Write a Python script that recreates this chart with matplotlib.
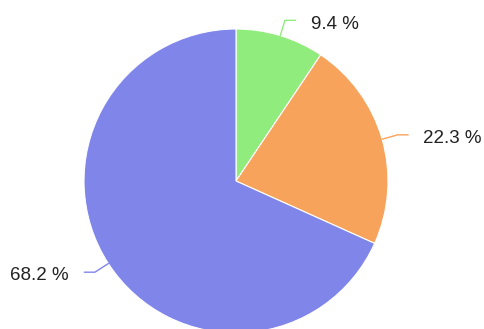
import numpy as np
import matplotlib
matplotlib.use("Agg")
import matplotlib.pyplot as plt

plt.rcParams['font.family'] = ['Liberation Sans', 'DejaVu Sans']

# slice data, clockwise from 12 o'clock
shares = [9.4, 22.3, 68.2]
labels = ['9.4 %', '22.3 %', '68.2 %']
colors = ['#90ed7d', '#f7a35c', '#8085e9']

W, H = 484, 329
cx, cy, rad = 236, 181, 152  # pie centre / radius in pixels

fig = plt.figure(figsize=(W / 100, H / 100), dpi=100)
ax = fig.add_axes([0, 0, 1, 1])

wedges, _ = ax.pie(shares, colors=colors, startangle=90, counterclock=False,
                   radius=1.0, wedgeprops=dict(edgecolor='white', linewidth=0.8))

# pie() resets the limits, so set them afterwards
ax.set_xlim(-cx / rad, (W - cx) / rad)
ax.set_ylim(-(H - cy) / rad, cy / rad)
ax.set_aspect('equal')
ax.axis('off')

# connectors + labels
d_out, h_run, gap = 0.105, 0.07, 0.1
for w, lab, col in zip(wedges, labels, colors):
    mid = np.deg2rad((w.theta1 + w.theta2) / 2)
    c, s = np.cos(mid), np.sin(mid)
    side = 1 if c >= 0 else -1
    x0, y0 = c, s
    x1, y1 = (1 + d_out) * c, (1 + d_out) * s
    x2 = x1 + side * h_run
    ax.plot([x0, x1, x2], [y0, y1, y1], color=col, lw=1, solid_capstyle='round',
            solid_joinstyle='round')
    ax.text(x2 + side * gap, y1 - 0.025, lab, ha='left' if side > 0 else 'right',
            va='center', fontsize=13.5, color='#222222')

fig.savefig('out.png', dpi=100)
